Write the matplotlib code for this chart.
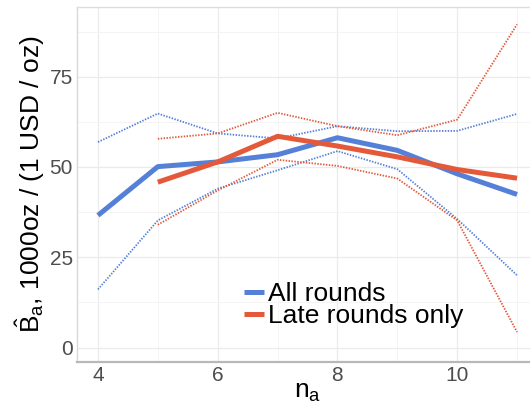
import matplotlib
matplotlib.use("Agg")
import matplotlib.pyplot as plt

plt.rcParams['font.family'] = ['Liberation Sans', 'DejaVu Sans']
plt.rcParams['mathtext.fontset'] = 'custom'
plt.rcParams['mathtext.rm'] = 'Liberation Sans'
plt.rcParams['mathtext.it'] = 'Liberation Sans'
plt.rcParams['mathtext.bf'] = 'Liberation Sans:bold'

# Data
x_all = [4, 5, 6, 7, 8, 9, 10, 11]
all_mean = [36.6, 50.1, 51.4, 53.4, 58.1, 54.6, 48.1, 42.4]
all_upper = [56.9, 64.8, 59.3, 57.9, 61.3, 59.9, 60.0, 64.7]
all_lower = [16.1, 35.2, 44.0, 49.1, 54.4, 49.4, 35.6, 20.0]

x_late = [5, 6, 7, 8, 9, 10, 11]
late_mean = [45.8, 51.4, 58.5, 55.8, 52.8, 49.3, 46.9]
late_upper = [57.8, 59.3, 65.0, 61.3, 58.8, 63.1, 89.5]
late_lower = [34.0, 43.5, 52.0, 50.3, 46.8, 35.2, 4.3]

labels = ["All rounds", "Late rounds only"]
x_ticks = [4, 6, 8, 10]
y_ticks = [0, 25, 50, 75]

blue = "#5580D8"
red = "#E3593A"

fig = plt.figure(figsize=(5.30, 4.04), dpi=100)
ax = fig.add_axes([77/530, 1-362/404, 461/530, 355/404])

ax.set_xlim(3.65, 11.35)
ax.set_ylim(-4.0, 94.3)

# grid
for v in [4, 6, 8, 10]:
    ax.axvline(v, color="#ebebeb", lw=0.9, zorder=0)
for v in [5, 7, 9, 11]:
    ax.axvline(v, color="#f4f4f4", lw=0.7, zorder=0)
for v in [0, 25, 50, 75]:
    ax.axhline(v, color="#ebebeb", lw=0.9, zorder=0)
for v in [12.5, 37.5, 62.5, 87.5]:
    ax.axhline(v, color="#f4f4f4", lw=0.7, zorder=0)

dot = (0, (0.8, 0.8))
ax.plot(x_all, all_upper, color=blue, lw=1.3, linestyle=dot, zorder=2)
ax.plot(x_all, all_lower, color=blue, lw=1.3, linestyle=dot, zorder=2)
ax.plot(x_late, late_upper, color=red, lw=1.3, linestyle=dot, zorder=2)
ax.plot(x_late, late_lower, color=red, lw=1.3, linestyle=dot, zorder=2)
l1, = ax.plot(x_all, all_mean, color=blue, lw=3.6, zorder=3, solid_capstyle='butt')
l2, = ax.plot(x_late, late_mean, color=red, lw=3.6, zorder=3, solid_capstyle='butt')

ax.set_xticks(x_ticks)
ax.set_yticks(y_ticks)
ax.set_xticklabels([str(v) for v in x_ticks])
ax.set_yticklabels([str(v) for v in y_ticks])
ax.tick_params(axis='both', length=0, labelsize=15, labelcolor="#4d4d4d", pad=3)

ax.spines['right'].set_visible(False)
ax.spines['top'].set_color("#dddddd")
ax.spines['top'].set_linewidth(1.0)
ax.spines['left'].set_color("#d8d8d8")
ax.spines['left'].set_linewidth(1.0)
ax.spines['bottom'].set_color("#b8b8b8")
ax.spines['bottom'].set_linewidth(1.6)

ax.set_xlabel(r"$\mathrm{n}_{\mathrm{a}}$", fontsize=19)
ax.xaxis.set_label_coords(0.5, -0.05)
ax.set_ylabel(r"$\hat{\mathrm{B}}_{\mathrm{a}}$, 1000oz / (1 USD / oz)", fontsize=19, labelpad=2)

leg = ax.legend([l1, l2], labels, loc='lower left', bbox_to_anchor=(0.362, 0.095),
                frameon=False, fontsize=19, handlelength=0.75, handletextpad=0.15,
                labelspacing=-0.08, borderpad=0, borderaxespad=0)

fig.savefig("out.png", dpi=100)
